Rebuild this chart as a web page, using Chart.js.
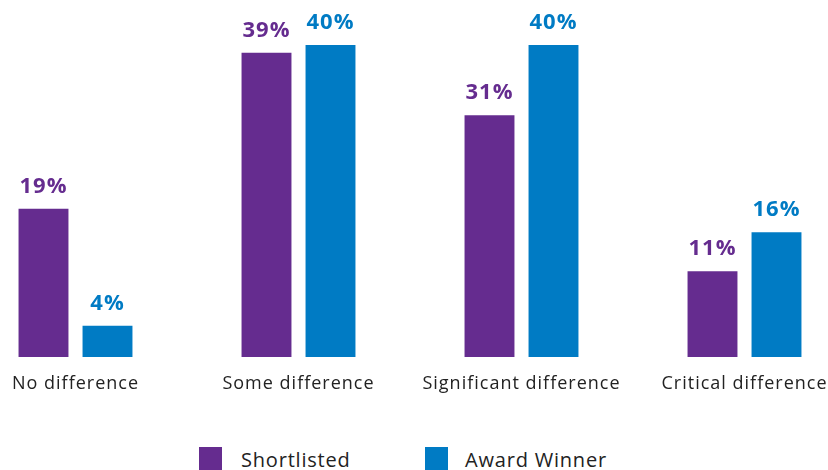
<!DOCTYPE html>
<html>
<head>
<meta charset="utf-8">
<script src="https://cdn.jsdelivr.net/npm/chart.js@4"></script>
<style>
    html, body { margin: 0; padding: 0; background: #fff; }
    body { width: 828px; height: 470px; overflow: hidden; position: relative; font-family: "Open Sans", sans-serif; }
    #wrap { position: absolute; left: -36px; top: 0; width: 892px; height: 400px; }
    #legend { position: absolute; top: 447px; left: 0; width: 828px; height: 30px; }
    .box { position: absolute; top: 0; width: 23px; height: 23px; }
    .lbl { position: absolute; top: -1px; font-size: 20px; letter-spacing: 0.8px; color: #222; white-space: nowrap; }
</style>
</head>
<body>
<div id="wrap"><canvas id="chart" width="892" height="400"></canvas></div>
<div id="legend">
    <div class="box" style="left:199px;background:#652c8f"></div>
    <div class="lbl" style="left:241px">Shortlisted</div>
    <div class="box" style="left:425px;background:#007bc4"></div>
    <div class="lbl" style="left:465px">Award Winner</div>
</div>
<script>
// Chart data
const categories = ['No difference', 'Some difference', 'Significant difference', 'Critical difference'];
const shortlisted = [19, 39, 31, 11];
const awardWinner = [4, 40, 40, 16];
const seriesNames = ['Shortlisted', 'Award Winner'];

const purple = '#652c8f';
const blue = '#007bc4';

// Wider letter spacing for the axis labels
const spacing = {
    id: 'spacing',
    beforeDraw(chart) {
        chart.ctx.letterSpacing = '1px';
    }
};

// Draw percentage labels above bars
const valueLabels = {
    id: 'valueLabels',
    afterDatasetsDraw(chart) {
        const ctx = chart.ctx;
        ctx.save();
        ctx.letterSpacing = '1px';
        ctx.font = 'bold 22px "Open Sans", sans-serif';
        ctx.textAlign = 'center';
        ctx.textBaseline = 'bottom';
        chart.data.datasets.forEach((ds, i) => {
            const meta = chart.getDatasetMeta(i);
            ctx.fillStyle = ds.backgroundColor;
            meta.data.forEach((bar, j) => {
                ctx.fillText(ds.data[j] + '%', bar.x, bar.y - 11);
            });
        });
        ctx.restore();
    }
};

new Chart(document.getElementById('chart'), {
    type: 'bar',
    data: {
        labels: categories,
        datasets: [
            { label: seriesNames[0], data: shortlisted, backgroundColor: purple },
            { label: seriesNames[1], data: awardWinner, backgroundColor: blue }
        ]
    },
    options: {
        responsive: false,
        animation: false,
        maintainAspectRatio: false,
        layout: { padding: 0 },
        datasets: {
            bar: { categoryPercentage: 0.574, barPercentage: 0.78 }
        },
        scales: {
            x: {
                grid: { display: false, drawTicks: false },
                border: { display: false },
                ticks: {
                    padding: 16,
                    color: '#222',
                    font: { size: 18, family: '"Open Sans", sans-serif' },
                    maxRotation: 0
                },
                afterFit: s => { s.height = 43; }
            },
            y: {
                display: false,
                min: 0,
                max: 45.77
            }
        },
        plugins: {
            legend: { display: false },
            tooltip: { enabled: false }
        }
    },
    plugins: [spacing, valueLabels]
});
</script>
</body>
</html>
